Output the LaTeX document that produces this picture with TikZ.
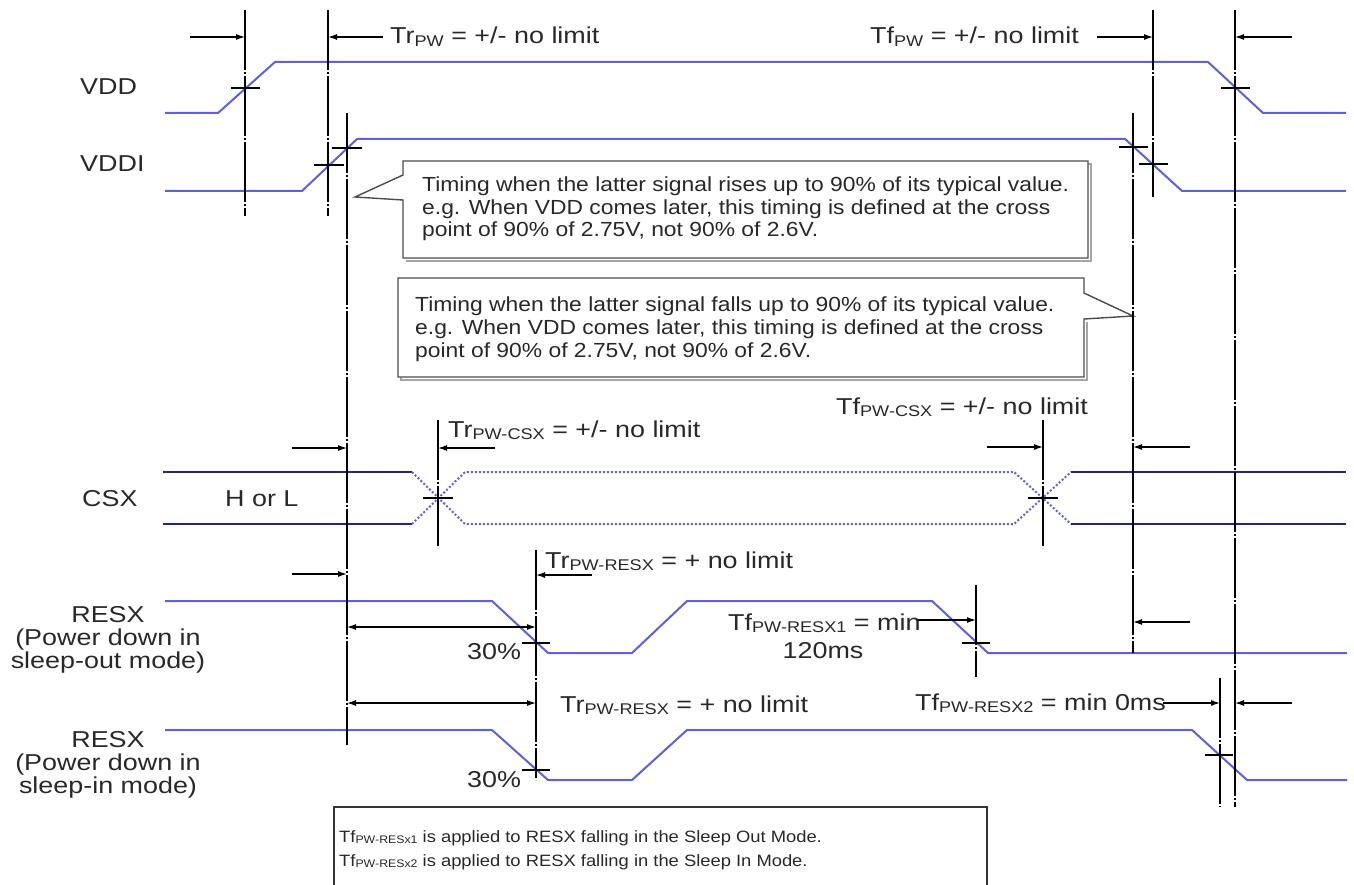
\documentclass[tikz,border=0pt]{standalone}
\usepackage{fontspec}
\setmainfont{Liberation Sans}[FakeStretch=1.12]
\newfontfamily\lblfont{Liberation Sans}[FakeStretch=1.17]
\usetikzlibrary{arrows.meta}
\definecolor{sig}{RGB}{95,95,225}
\definecolor{csxc}{RGB}{35,35,150}
\definecolor{txt}{RGB}{40,40,40}
\newcommand\sbx[1]{\raisebox{-0.12em}{\fontsize{15.5}{15.5}\selectfont #1}}
\newcommand\sbs[1]{\raisebox{-0.1em}{\fontsize{11}{11}\selectfont #1}}
\begin{document}
\begin{tikzpicture}[x=1pt,y=-1pt,
  sigline/.style={draw=sig,line width=2pt,line join=miter},
  csxline/.style={draw=csxc,line width=2pt},
  csxdot/.style={draw=sig,line width=2pt,dash pattern=on 2pt off 2pt},
  refline/.style={draw=black,line width=1.2pt,dash pattern=on 60pt off 2pt on 2pt off 2pt},
  tickmark/.style={draw=black,line width=1.2pt},
  dimarrow/.style={draw=black,line width=1.2pt,-{Latex[length=9pt,width=6pt]}},
  dimboth/.style={draw=black,line width=1.2pt,{Latex[length=9pt,width=6pt]}-{Latex[length=9pt,width=6pt]}},
  lbl/.style={anchor=base west,inner sep=0pt,text=txt,font=\lblfont\fontsize{23}{26}\selectfont},
  clbl/.style={anchor=base,inner sep=0pt,text=txt,font=\lblfont\fontsize{23}{26}\selectfont},
  note/.style={anchor=base west,inner sep=0pt,text=txt,font=\fontsize{20.4}{22.7}\selectfont},
  small/.style={anchor=base west,inner sep=0pt,text=txt,font=\fontsize{16.4}{20}\selectfont},
  calloutbox/.style={draw=black!70,line width=1.4pt,fill=white},
  shadowbox/.style={draw=black!35,line width=2pt}]
\useasboundingbox (0,0) rectangle (1354,885);

% ---------------- signals ----------------
\draw[sigline] (165,113) -- (218,113) -- (275,62) -- (1208,62) -- (1263,113) -- (1346,113);
\draw[sigline] (165,191) -- (302,191) -- (357,139) -- (1125,139) -- (1182,191) -- (1346,191);
% CSX
\draw[csxline] (163,472) -- (412,472);
\draw[csxline] (163,524) -- (412,524);
\draw[csxdot] (412,472) -- (465,524) -- (1014,524) -- (1071,472);
\draw[csxdot] (412,524) -- (465,472) -- (1014,472) -- (1071,524);
\draw[csxline] (1071,472) -- (1346,472);
\draw[csxline] (1071,524) -- (1346,524);
% RESX
\draw[sigline] (165,601) -- (492,601) -- (548,653) -- (632,653) -- (687,601) -- (932,601) -- (988,653) -- (1347,653);
\draw[sigline] (165,730) -- (492,730) -- (548,780) -- (632,780) -- (687,730) -- (1192,730) -- (1247,780) -- (1347,780);

% ---------------- callouts ----------------
\draw[shadowbox] (406,164) -- (1091,164) -- (1091,261) -- (406,261);
\draw[calloutbox] (403,161) -- (1088,161) -- (1088,258) -- (403,258) -- (403,200) -- (355,197) -- (403,175) -- cycle;
\node[note] (c1a) at (422,192) {Timing when the latter signal rises up to 90\% of its typical value.};
\node[note] (c1b) at (422,215) {e.g. When VDD comes later, this timing is defined at the cross};
\node[note] (c1c) at (422,237) {point of 90\% of 2.75V, not 90\% of 2.6V.};

\draw[shadowbox] (401,281) -- (401,380) -- (1087,380) -- (1087,322);
\draw[calloutbox] (398,278) -- (1084,278) -- (1084,293) -- (1133,316) -- (1084,319) -- (1084,377) -- (398,377) -- cycle;
\node[note] (c2a) at (415,311) {Timing when the latter signal falls up to 90\% of its typical value.};
\node[note] (c2b) at (415,334) {e.g. When VDD comes later, this timing is defined at the cross};
\node[note] (c2c) at (415,357) {point of 90\% of 2.75V, not 90\% of 2.6V.};

% ---------------- reference lines ----------------
\draw[refline] (245,10) -- (245,216);
\draw[refline] (328,10) -- (328,216);
\draw[refline] (347,113) -- (347,745);
\draw[refline] (1133,113) -- (1133,653);
\draw[refline] (1153,10) -- (1153,197);
\draw[refline] (1235,10) -- (1235,807);
\draw[refline] (438,420) -- (438,548);
\draw[refline] (1043,420) -- (1043,548);
\draw[refline] (536,550) -- (536,778);
\draw[refline] (976,585) -- (976,677);
\draw[refline] (1220,678) -- (1220,807);

% ---------------- crossing ticks ----------------
\draw[tickmark] (231,88) -- (260,88);
\draw[tickmark] (314,165) -- (344,165);
\draw[tickmark] (332,148) -- (362,148);
\draw[tickmark] (1119,147) -- (1148,147);
\draw[tickmark] (1139,164) -- (1168,164);
\draw[tickmark] (1221,88) -- (1250,88);
\draw[tickmark] (423,498) -- (453,498);
\draw[tickmark] (1028,498) -- (1058,498);
\draw[tickmark] (522,643) -- (550,643);
\draw[tickmark] (522,770) -- (550,770);
\draw[tickmark] (962,643) -- (990,643);
\draw[tickmark] (1205,755) -- (1233,755);

% ---------------- dimension arrows ----------------
\draw[dimarrow] (190,37) -- (245,37);
\draw[dimarrow] (383,37) -- (328,37);
\draw[dimarrow] (1097,37) -- (1153,37);
\draw[dimarrow] (1292,37) -- (1235,37);
\draw[dimarrow] (292,448) -- (347,448);
\draw[dimarrow] (495,448) -- (438,448);
\draw[dimarrow] (987,447) -- (1043,447);
\draw[dimarrow] (1190,447) -- (1133,447);
\draw[dimarrow] (292,574) -- (347,574);
\draw[dimarrow] (592,575) -- (536,575);
\draw[dimboth] (347,627) -- (536,627);
\draw[dimboth] (347,703) -- (536,703);
\draw[dimarrow] (917,620) -- (976,620);
\draw[dimarrow] (1190,622) -- (1133,622);
\draw[dimarrow] (1163,703) -- (1220,703);
\draw[dimarrow] (1292,703) -- (1235,703);

% ---------------- labels ----------------
\node[lbl] (vdd) at (80,95) {VDD};
\node[lbl] (vddi) at (80,172) {VDDI};
\node[lbl] (csx) at (82,506) {CSX};
\node[lbl] (horl) at (225,506) {H or L};
\node[lbl] (trpw) at (390,44) {Tr\sbx{PW} = +/- no limit};
\node[lbl] (tfpw) at (870,44) {Tf\sbx{PW} = +/- no limit};
\node[lbl] (trcsx) at (448,437) {Tr\sbx{PW-CSX} = +/- no limit};
\node[lbl] (tfcsx) at (836,414) {Tf\sbx{PW-CSX} = +/- no limit};
\node[clbl] (r1a) at (108,622) {RESX};
\node[clbl] (r1b) at (108,645) {(Power down in};
\node[clbl] (r1c) at (108,668) {sleep-out mode)};
\node[clbl] (r2a) at (108,747) {RESX};
\node[clbl] (r2b) at (108,770) {(Power down in};
\node[clbl] (r2c) at (108,793) {sleep-in mode)};
\node[lbl] (p30a) at (467,659) {30\%};
\node[lbl] (p30b) at (467,787) {30\%};
\node[lbl] (trresa) at (545,568) {Tr\sbx{PW-RESX} = + no limit};
\node[lbl] (trresb) at (560,712) {Tr\sbx{PW-RESX} = + no limit};
\node[lbl] (tfres1) at (728,630) {Tf\sbx{PW-RESX1} = min};
\node[clbl] (ms120) at (823,658) {120ms};
\node[lbl] (tfres2) at (915,710) {Tf\sbx{PW-RESX2} = min 0ms};

% ---------------- bottom note ----------------
\draw[draw=black!80,line width=1.4pt] (334,895) -- (334,807) -- (987,807) -- (987,895);
\node[small] (n1) at (339,842) {Tf\sbs{PW-RESx1} is applied to RESX falling in the Sleep Out Mode.};
\node[small] (n2) at (339,866) {Tf\sbs{PW-RESx2} is applied to RESX falling in the Sleep In Mode.};
\end{tikzpicture}
\end{document}
